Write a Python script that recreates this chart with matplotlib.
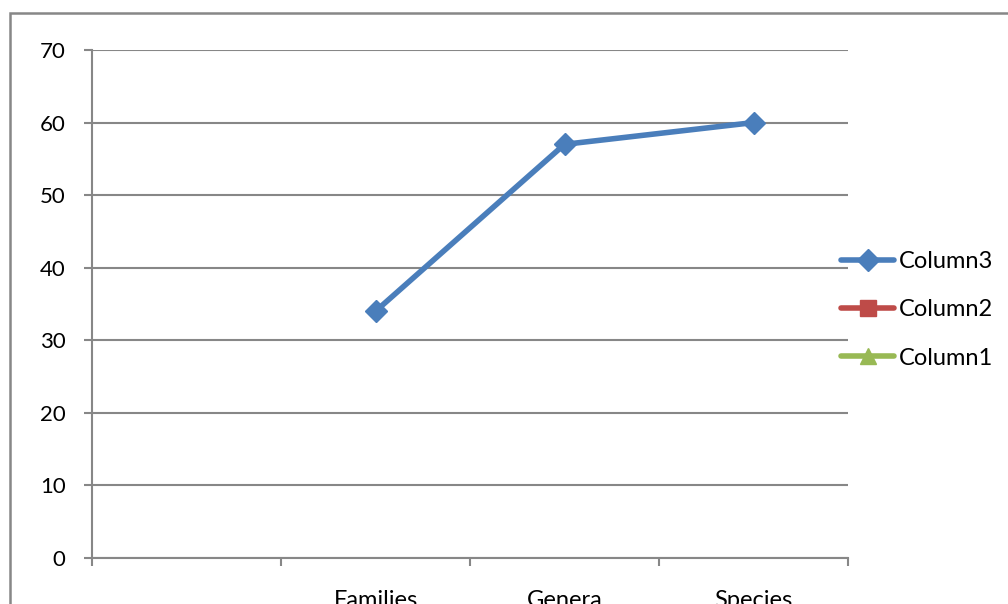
"""Courbe Families / Genera / Species, style tableur."""
import numpy as np
import matplotlib
matplotlib.use("Agg")
import matplotlib.pyplot as plt
from matplotlib.patches import Rectangle

# catégories (la première est vide dans l'original)
CATEGORIES = ["", "Families", "Genera", "Species"]
COLUMN3 = [np.nan, 34, 57, 60]
COLUMN2 = [np.nan, np.nan, np.nan, np.nan]
COLUMN1 = [np.nan, np.nan, np.nan, np.nan]
Y_TICKS = [0, 10, 20, 30, 40, 50, 60, 70]

GRID_COLOR = "#878787"
FONT = ["Lato", "DejaVu Sans"]

plt.rcParams["font.family"] = FONT
plt.rcParams["font.size"] = 17

fig = plt.figure(figsize=(10.08, 6.04), dpi=100)
ax = fig.add_axes([92 / 1008, 1 - 558 / 604, (848 - 92) / 1008, (558 - 50) / 604])

# cadre du graphique (coupé à droite et en bas)
fig.patches.append(Rectangle(
    (10 / 1008, -0.2), 1.2, 1.2 - 13 / 604,
    transform=fig.transFigure, fill=False,
    edgecolor=GRID_COLOR, linewidth=1.8, clip_on=True
))

x = np.arange(len(CATEGORIES))
series = [
    ("Column3", COLUMN3, "#4A7EBB", "D", 11.5),
    ("Column2", COLUMN2, "#BE4B48", "s", 11),
    ("Column1", COLUMN1, "#98B954", "^", 12),
]
for label, vals, color, marker, ms in series:
    ax.plot(x, vals, color=color, linewidth=4, marker=marker,
            markersize=ms, label=label, solid_capstyle="round")

ax.set_xlim(-0.5, len(CATEGORIES) - 0.5)
ax.set_ylim(0, 70)
ax.set_yticks(Y_TICKS)
ax.set_xticks(x)
ax.set_xticklabels(CATEGORIES)
ax.set_xticks(np.arange(-0.5, len(CATEGORIES)), minor=True)

for side in ["top", "right"]:
    ax.spines[side].set_visible(False)
for side in ["left", "bottom"]:
    ax.spines[side].set_color(GRID_COLOR)
    ax.spines[side].set_linewidth(1.5)

ax.grid(visible=True, axis="y", color=GRID_COLOR, linewidth=1.5)
ax.set_axisbelow(True)
ax.tick_params(axis="y", length=6, width=1.5, color=GRID_COLOR, pad=13,
               labelsize=16)
ax.tick_params(axis="x", which="major", length=0, pad=23)
ax.tick_params(axis="x", which="minor", length=6, width=1.5, color=GRID_COLOR)

ax.legend(loc="center left", bbox_to_anchor=(841 / 1008, 1 - 310 / 604),
          bbox_transform=fig.transFigure, frameon=False,
          handlelength=2.25, handletextpad=0.2, labelspacing=1.15,
          borderaxespad=0, borderpad=0, fontsize=17)

fig.savefig("out.png", dpi=100)
